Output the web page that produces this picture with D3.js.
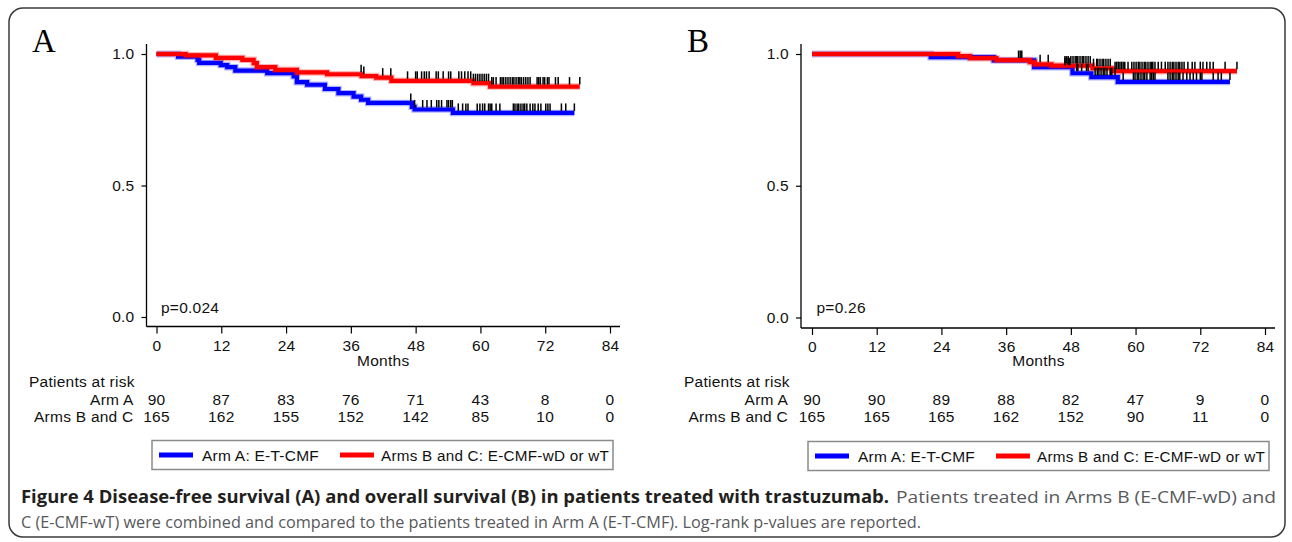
<!DOCTYPE html>
<html><head><meta charset="utf-8">
<script src="https://cdn.jsdelivr.net/npm/d3@7"></script>
<style>
html,body{margin:0;padding:0;background:#fff;}
svg{display:block;}
.st{font-family:"Liberation Sans",Arial,Helvetica,sans-serif;font-size:15.5px;letter-spacing:0.25px;fill:#111;}
.letter{font-family:"Liberation Serif","Times New Roman",serif;font-size:33px;fill:#000;}
.cap{font-family:"Open Sans","Noto Sans",sans-serif;font-size:17px;}
</style></head>
<body>
<svg id="chart" width="1292" height="542"></svg>
<script>
// ---------- data ----------
const monthTicks = [0, 12, 24, 36, 48, 60, 72, 84];
const survTicks = [0.0, 0.5, 1.0];
const armLabels = ["Arm A", "Arms B and C"];
const legendLabels = ["Arm A: E-T-CMF", "Arms B and C: E-CMF-wD or wT"];
const pValues = ["p=0.024", "p=0.26"];
const panelLetters = ["A", "B"];

// Panel A: disease-free survival (step points [month, survival])
const dfsArmA = [[0,1],[4.0,0.990],[7.6,0.978],[7.9,0.966],[11.9,0.958],[13.1,0.950],[14.6,0.937],[20.5,0.927],[25.4,0.915],[26.0,0.893],[27.9,0.883],[31.2,0.867],[33.7,0.851],[36.5,0.838],[37.9,0.826],[39.2,0.814],[47.3,0.799],[47.8,0.789],[54.9,0.776]];
const dfsArmAEnd = 77.4;
const dfsArmACensor = [47.1,47.8,49.3,50.1,50.9,51.9,52.3,52.8,53.8,54.1,54.5,54.8,55.9,56.7,57.3,57.7,59.4,59.9,60.4,60.8,61.5,61.8,62.1,62.9,63.6,66.1,66.4,66.8,67.1,67.5,67.9,68.2,68.6,69.2,69.7,70.1,70.7,71.2,72.1,72.5,72.9,75.0,75.8,77.4];
const dfsArmBC = [[0,1],[5.4,0.995],[11.0,0.985],[15.9,0.978],[18.0,0.965],[18.6,0.950],[22.0,0.940],[26.0,0.930],[31.6,0.923],[38.0,0.916],[40.7,0.910],[43.5,0.898],[58.7,0.889],[61.8,0.876]];
const dfsArmBCEnd = 78.4;
const dfsArmBCCensor = [37.9,38.4,41.9,43.4,46.5,48.0,48.3,49.1,49.6,50.0,50.5,51.8,52.2,53.1,54.1,54.5,56.0,56.5,57.1,57.7,58.2,58.7,59.1,59.5,59.9,60.3,60.7,61.1,61.5,62.1,62.4,62.9,63.7,64.0,64.3,64.7,65.1,65.5,65.9,66.2,66.6,67.0,67.3,67.6,68.0,68.4,68.8,69.2,70.5,70.8,71.1,71.6,71.9,72.4,72.7,73.9,74.4,76.5,78.4];
const dfsRiskArmA = [90, 87, 83, 76, 71, 43, 8, 0];
const dfsRiskArmBC = [165, 162, 155, 152, 142, 85, 10, 0];

// Panel B: overall survival
const osArmA = [[0,1],[22.0,0.988],[33.7,0.976],[41.2,0.950],[48.3,0.927],[51.8,0.912],[56.7,0.894]];
const osArmAEnd = 77.5;
const osArmACensor = [46.9,47.5,47.8,49.1,49.3,50.0,50.9,51.2,52.5,52.9,53.2,53.6,54.0,54.3,54.7,55.3,55.6,56.2,57.7,59.6,59.9,60.3,60.6,61.0,61.4,61.7,62.1,62.7,63.0,63.3,63.6,66.0,66.4,66.8,67.1,67.5,67.9,68.2,68.8,69.5,70.1,70.7,71.3,72.0,72.3,74.4,75.3,75.9,77.5];
const osArmBC = [[0,1],[27.1,0.992],[29.3,0.984],[34.2,0.977],[40.4,0.969],[41.3,0.961],[44.4,0.956],[52.0,0.946],[55.6,0.935]];
const osArmBCEnd = 78.8;
const osArmBCCensor = [38.3,38.6,38.9,42.3,43.8,46.9,47.2,47.5,48.0,48.4,48.8,49.1,49.3,49.7,50.1,50.4,50.8,51.2,51.6,52.2,52.8,53.0,53.4,53.8,54.1,54.5,54.9,55.3,56.2,56.5,56.8,57.1,57.4,57.7,58.0,58.6,59.3,59.7,60.1,60.5,60.8,61.2,61.6,61.9,62.3,62.7,63.0,63.2,63.6,64.2,64.8,65.5,66.0,66.4,66.8,67.1,67.5,67.9,68.2,68.6,69.0,69.7,70.5,71.0,72.0,72.5,73.2,73.8,74.4,76.6,78.8];
const osRiskArmA = [90, 90, 89, 88, 82, 47, 9, 0];
const osRiskArmBC = [165, 165, 165, 162, 152, 90, 11, 0];

const captionBold = "Figure 4 Disease-free survival (A) and overall survival (B) in patients treated with trastuzumab.";
const captionLine1 = "Patients treated in Arms B (E-CMF-wD) and";
const captionLine2 = "C (E-CMF-wT) were combined and compared to the patients treated in Arm A (E-T-CMF). Log-rank p-values are reported.";

// ---------- drawing ----------
const svg = d3.select("#chart");
const BLUE = "#0000ff", RED = "#ff0000";

svg.append("rect").attr("x", 9).attr("y", 8).attr("width", 1276).attr("height", 529)
  .attr("rx", 14).attr("fill", "none").attr("stroke", "#3a3a3a").attr("stroke-width", 1.5);

function stepValue(points, t) {
  let v = points[0][1];
  for (const p of points) { if (p[0] <= t) v = p[1]; }
  return v;
}

function drawPanel(cfg) {
  const g = svg.append("g");
  const x = d3.scaleLinear().domain([0, 84]).range([cfg.x0, cfg.x1]);
  const y = d3.scaleLinear().domain([0, 1]).range([cfg.y0, cfg.y1]);

  g.append("line").attr("x1", cfg.ax).attr("x2", cfg.ax).attr("y1", cfg.axTop).attr("y2", cfg.axY)
    .attr("stroke", "#000").attr("stroke-width", 1.3);
  g.append("line").attr("x1", cfg.ax).attr("x2", cfg.axRight).attr("y1", cfg.axY).attr("y2", cfg.axY)
    .attr("stroke", "#000").attr("stroke-width", 1.3);

  const yAxis = g.append("g").attr("transform", `translate(${cfg.ax},0)`)
    .call(d3.axisLeft(y).tickValues(survTicks).tickFormat(d3.format(".1f")).tickSize(5).tickPadding(7).tickSizeOuter(0));
  yAxis.select(".domain").remove();
  yAxis.attr("font-family", null).attr("font-size", null);
  yAxis.selectAll("text").attr("class", "st").attr("fill", null);
  yAxis.selectAll("line").attr("stroke-width", 1.2);

  const xAxis = g.append("g").attr("transform", `translate(0,${cfg.axY})`)
    .call(d3.axisBottom(x).tickValues(monthTicks).tickSize(7).tickPadding(6).tickSizeOuter(0));
  xAxis.select(".domain").remove();
  xAxis.attr("font-family", null).attr("font-size", null);
  xAxis.selectAll("text").attr("class", "st").attr("fill", null);
  xAxis.selectAll("line").attr("stroke-width", 1.2);

  g.append("text").attr("class", "st").attr("x", (cfg.x0 + cfg.x1) / 2).attr("y", 366).attr("text-anchor", "middle")
    .text("Months");

  const line = d3.line().x(d => x(d[0])).y(d => y(d[1])).curve(d3.curveStepAfter);
  cfg.series.forEach(s => {
    const pts = s.points.concat([[s.end, s.points[s.points.length - 1][1]]]);
    g.append("path").attr("d", line(pts)).attr("fill", "none").attr("stroke", s.color)
      .attr("stroke-opacity", 0.3).attr("stroke-width", 6.5);
    g.append("path").attr("d", line(pts)).attr("fill", "none").attr("stroke", s.color)
      .attr("stroke-width", 4.2);
  });
  cfg.series.forEach(s => {
    g.append("g").selectAll("line").data(s.censor).join("line")
      .attr("x1", d => x(d)).attr("x2", d => x(d))
      .attr("y1", d => y(stepValue(s.points, d)) - 9.5)
      .attr("y2", d => y(stepValue(s.points, d)) - 2)
      .attr("stroke", "#000").attr("stroke-width", 1.5);
  });

  g.append("text").attr("class", "st").attr("x", cfg.x0 + 4.5).attr("y", 313).text(cfg.p);
  g.append("text").attr("class", "letter").attr("x", cfg.letterX).attr("y", 52).text(cfg.letter);

  g.append("text").attr("class", "st").attr("x", cfg.riskLeft).attr("y", 387).text("Patients at risk");
  cfg.risk.forEach((row, i) => {
    const yy = 405 + i * 17;
    g.append("text").attr("class", "st").attr("x", cfg.ax - 13).attr("y", yy).attr("text-anchor", "end")
      .text(armLabels[i]);
    g.append("g").selectAll("text").data(row).join("text").attr("class", "st")
      .attr("x", (d, j) => x(monthTicks[j])).attr("y", yy).attr("text-anchor", "middle")
      .text(d => d);
  });

  const lg = g.append("g");
  lg.append("rect").attr("x", cfg.legX).attr("y", cfg.legY).attr("width", cfg.legW).attr("height", 29)
    .attr("fill", "#fff").attr("stroke", "#8a8a8a").attr("stroke-width", 1.5);
  const items = [{c: BLUE, lx: cfg.legX + 7, tx: cfg.legX + 50, tl: 117},
                 {c: RED, lx: cfg.legX + 188, tx: cfg.legX + 229, tl: 228}];
  items.forEach((it, i) => {
    lg.append("line").attr("x1", it.lx).attr("x2", it.lx + 34).attr("y1", cfg.legY + 14.5).attr("y2", cfg.legY + 14.5)
      .attr("stroke", it.c).attr("stroke-width", 5);
    lg.append("text").attr("class", "st").attr("x", it.tx).attr("y", cfg.legY + 20.5)
      .attr("textLength", it.tl).attr("lengthAdjust", "spacingAndGlyphs")
      .text(legendLabels[i]);
  });
}

drawPanel({
  x0: 156.5, x1: 610, y0: 317, y1: 54, ax: 146.5, axTop: 44, axY: 326.5, axRight: 620,
  letter: panelLetters[0], letterX: 32, p: pValues[0], riskLeft: 29,
  risk: [dfsRiskArmA, dfsRiskArmBC],
  legX: 152, legY: 440.5, legW: 461,
  series: [
    {points: dfsArmA, end: dfsArmAEnd, censor: dfsArmACensor, color: BLUE},
    {points: dfsArmBC, end: dfsArmBCEnd, censor: dfsArmBCCensor, color: RED}
  ]
});
drawPanel({
  x0: 812, x1: 1265, y0: 317.5, y1: 54, ax: 801, axTop: 44, axY: 328, axRight: 1275,
  letter: panelLetters[1], letterX: 687, p: pValues[1], riskLeft: 684,
  risk: [osRiskArmA, osRiskArmBC],
  legX: 808, legY: 441.5, legW: 461,
  series: [
    {points: osArmA, end: osArmAEnd, censor: osArmACensor, color: BLUE},
    {points: osArmBC, end: osArmBCEnd, censor: osArmBCCensor, color: RED}
  ]
});

const cap = svg.append("g");
cap.append("text").attr("class", "cap").attr("x", 21).attr("y", 503).style("font-weight", "bold")
  .style("fill", "#231f20").attr("textLength", 868).attr("lengthAdjust", "spacingAndGlyphs").text(captionBold);
cap.append("text").attr("class", "cap").attr("x", 896).attr("y", 503).style("font-weight", "400")
  .style("fill", "#58595b").attr("textLength", 380).attr("lengthAdjust", "spacingAndGlyphs").text(captionLine1);
cap.append("text").attr("class", "cap").attr("x", 21).attr("y", 528).style("font-weight", "400")
  .style("fill", "#58595b").attr("textLength", 900).attr("lengthAdjust", "spacingAndGlyphs").text(captionLine2);
</script>
</body></html>
